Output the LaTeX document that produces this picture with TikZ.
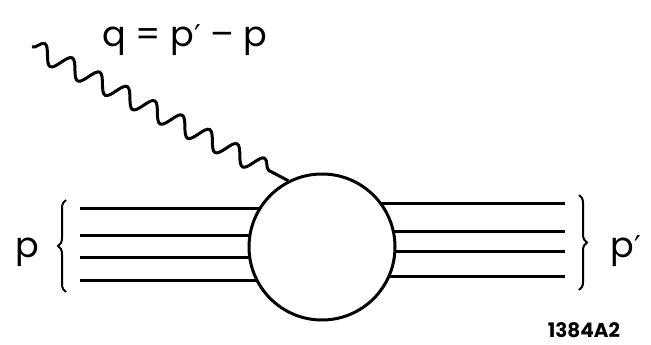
\documentclass[tikz,border=0pt]{standalone}
\usepackage{fontspec}
\setmainfont{Poppins}
\newfontfamily\primefont{DejaVu Sans}
\usetikzlibrary{positioning,decorations.pathmorphing,decorations.pathreplacing,backgrounds}
\definecolor{ink}{HTML}{000000}
\newcommand{\pr}{{\primefont\fontsize{30}{32}\selectfont ′}}
\tikzset{
  leg/.style={draw=ink,line width=3pt},
  lbl/.style={text=ink,font=\fontsize{35}{38}\selectfont,anchor=base,inner sep=0pt},
  photon/.style={draw=ink,line width=3pt,decorate,decoration={snake,segment length=31pt,amplitude=9pt,post length=8pt}},
  curly/.style={draw=ink,line width=2pt,decorate,decoration={brace,amplitude=8pt}}
}
\begin{document}
\begin{tikzpicture}[x=1pt,y=-1pt]
\useasboundingbox (0,0) rectangle (651,345);
\node[draw=ink,fill=white,circle,line width=3pt,minimum size=146pt] (blob) at (322,247){};
\begin{pgfonlayer}{background}
\foreach \yl/\yr [count=\i] in {208/203,235/231,257/251,280/276}{
  \coordinate (in\i) at (80,\yl);\coordinate (out\i) at (565,\yr);
  \draw[leg] (in\i)--(blob.center|-in\i);\draw[leg] (blob.center|-out\i)--(out\i);
}
\end{pgfonlayer}
\coordinate (qstart) at (32,47);
\draw[photon] (qstart)--(blob.117);
\node[lbl] (q) at (185,47){q = p\pr{} – p};
\coordinate (lb) at (66,292);\coordinate (lt) at (66,200);
\draw[curly] (lb)--(lt);
\coordinate (rt) at (579,195);\coordinate (rb) at (579,290);
\draw[curly] (rt)--(rb);
\node[lbl] (pin) at (27,257){p};
\node[lbl] (pout) at (626,257){p\pr};
\node[text=ink,font=\bfseries\fontsize{20}{22}\selectfont,anchor=base,inner sep=0pt] (tag) at (584,337){1384A2};
\end{tikzpicture}
\end{document}
